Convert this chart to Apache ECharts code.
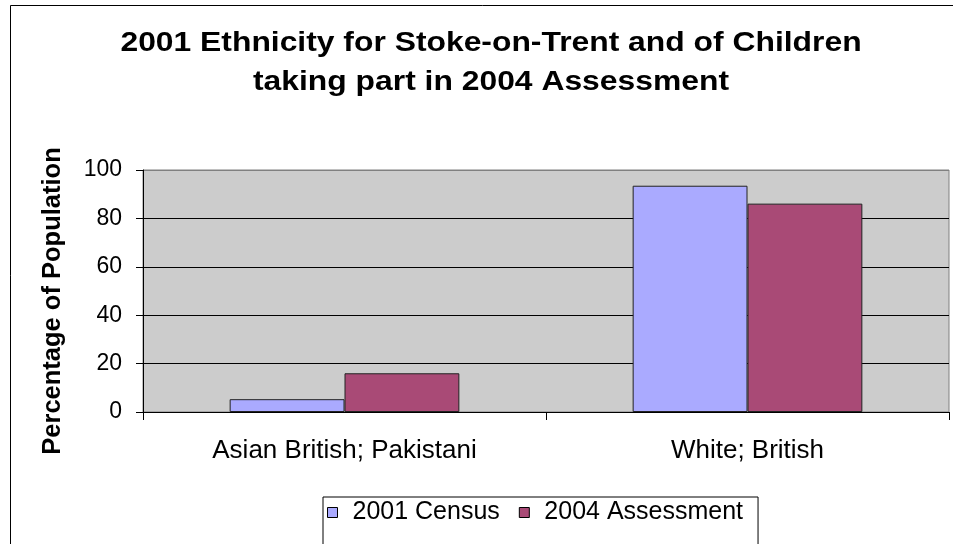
<!DOCTYPE html>
<html>
<head>
<meta charset="utf-8">
<script src="https://cdn.jsdelivr.net/npm/echarts@6/dist/echarts.min.js"></script>
<style>
html,body{margin:0;padding:0;background:#fff;}
#chart{width:953px;height:544px;}
</style>
</head>
<body>
<div id="chart"></div>
<script>
const titleLines = ['2001 Ethnicity for Stoke-on-Trent and of Children', 'taking part in 2004 Assessment'];
const categories = ['Asian British; Pakistani', 'White; British'];
const seriesNames = ['2001 Census', '2004 Assessment'];
const census2001 = [5.3, 93.5];
const assessment2004 = [16.0, 86.1];
const yTicks = [0, 20, 40, 60, 80, 100];
const yAxisTitle = 'Percentage of Population';

const chart = echarts.init(document.getElementById('chart'), null, {renderer: 'canvas'});
const FONT = '"Liberation Sans", Arial, sans-serif';

chart.setOption({
  animation: false,
  backgroundColor: '#ffffff',
  textStyle: {fontFamily: FONT},
  graphic: [
    {type: 'rect', z: -10, shape: {x: 10.5, y: 5.5, width: 1000, height: 600},
     style: {fill: '#ffffff', stroke: '#000000', lineWidth: 1}},
    {type: 'text', x: 491, y: 24, scaleX: 1.137, z: 10,
     style: {x: 0, y: 0, text: titleLines.join('\n'), textAlign: 'center', textVerticalAlign: 'top',
       font: 'bold 28px ' + FONT, fill: '#000', lineHeight: 39}},
    {type: 'text', x: 53, y: 301, rotation: Math.PI / 2, z: 10,
     style: {x: 0, y: 0, text: yAxisTitle, textAlign: 'center', textVerticalAlign: 'middle',
       font: 'bold 25.5px ' + FONT, fill: '#000'}}
  ],
  legend: {
    left: 323, top: 497,
    data: seriesNames,
    orient: 'horizontal',
    icon: 'rect',
    itemWidth: 10, itemHeight: 10,
    itemGap: 19,
    borderColor: '#000', borderWidth: 1, borderRadius: 0,
    padding: [3, 15, 30, 4],
    textStyle: {fontFamily: FONT, fontSize: 25, color: '#000', padding: [0, 0, 0, 10]},
    itemStyle: {borderColor: '#000', borderWidth: 1}
  },
  grid: {
    left: 143, right: 4, top: 170, bottom: 132,
    show: true, backgroundColor: '#cccccc', borderColor: '#808080', borderWidth: 1
  },
  xAxis: {
    type: 'category',
    data: categories,
    axisLine: {lineStyle: {color: '#000', width: 1}},
    axisTick: {show: true, alignWithLabel: false, length: 8, lineStyle: {color: '#000'}},
    axisLabel: {fontFamily: FONT, fontSize: 26, color: '#000', margin: 26}
  },
  yAxis: {
    type: 'value',
    min: yTicks[0], max: yTicks[yTicks.length - 1], interval: 20,
    axisLine: {show: true, lineStyle: {color: '#000', width: 1}},
    axisTick: {show: true, length: 7, lineStyle: {color: '#000'}},
    axisLabel: {fontFamily: FONT, fontSize: 23, color: '#000', margin: 21},
    splitLine: {show: true, lineStyle: {color: ['#000', '#000', '#000', '#000', '#000', '#808080'], width: 1}}
  },
  series: [
    {name: seriesNames[0], type: 'bar', data: census2001, barGap: '0%', barCategoryGap: '43%',
     itemStyle: {color: '#aaaaff', borderColor: '#222', borderWidth: 1}},
    {name: seriesNames[1], type: 'bar', data: assessment2004, barGap: '0%', barCategoryGap: '43%',
     itemStyle: {color: '#a94a76', borderColor: '#222', borderWidth: 1}}
  ]
});
</script>
</body>
</html>
